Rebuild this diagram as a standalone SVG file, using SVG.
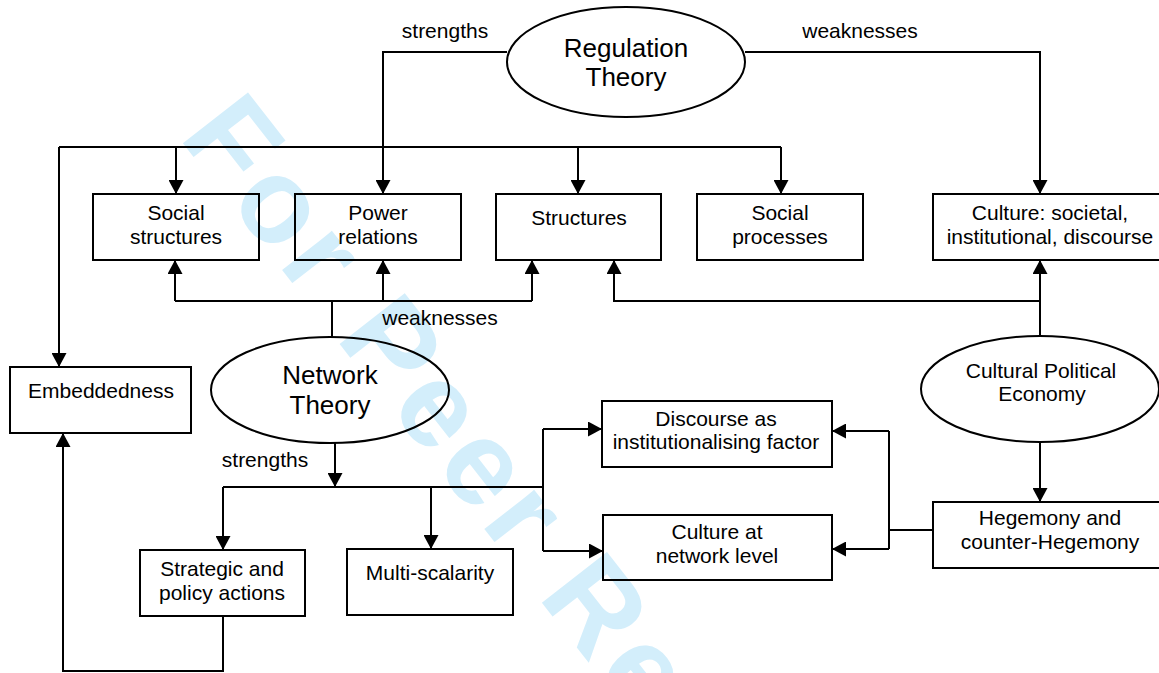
<svg xmlns="http://www.w3.org/2000/svg" width="1159" height="673" viewBox="0 0 1159 673">
<style>
.bg{fill:#ffffff}
.wm{font-family:"Liberation Sans",Arial,sans-serif;font-weight:bold;font-size:120px;letter-spacing:7px;fill:#d3eefb}
.box{fill:none;stroke:#000;stroke-width:2}
.ell{fill:none;stroke:#000;stroke-width:2}
.t{font-family:"Liberation Sans",Arial,sans-serif;font-size:21px;fill:#000;text-anchor:middle}
.tb{font-family:"Liberation Sans",Arial,sans-serif;font-size:26px;fill:#000;text-anchor:middle}
.c{fill:none;stroke:#000;stroke-width:2}
.a{marker-end:url(#arr)}
</style>
<defs>
<marker id="arr" markerUnits="userSpaceOnUse" markerWidth="15" markerHeight="15" refX="14" refY="7.5" orient="auto">
<path d="M0,0 L14,7.5 L0,15 z" fill="#000"/>
</marker>
</defs>
<rect class="bg" x="0" y="0" width="1159" height="673"/>
<text class="wm" transform="translate(178,137) rotate(52)">For Peer Review</text>

<g id="connectors">
<path class="c a" d="M507,52 H383 V194"/>
<path class="c" d="M59,147 H781"/>
<path class="c a" d="M176,147 V194"/>
<path class="c a" d="M578,147 V194"/>
<path class="c a" d="M781,147 V194"/>
<path class="c a" d="M59,147 V367"/>
<path class="c a" d="M745,52 H1040 V194"/>
<path class="c" d="M332,337 V301"/>
<path class="c" d="M175,301 H532"/>
<path class="c a" d="M175,301 V260"/>
<path class="c a" d="M383,301 V260"/>
<path class="c a" d="M532,301 V260"/>
<path class="c a" d="M1040,336 V260"/>
<path class="c a" d="M1040,301 H614 V260"/>
<path class="c a" d="M1040,443 V502"/>
<path class="c" d="M933,530 H889"/>
<path class="c" d="M889,431 V549"/>
<path class="c a" d="M889,431 H832"/>
<path class="c a" d="M889,549 H832"/>
<path class="c a" d="M335,443 V487"/>
<path class="c" d="M223,487 H543"/>
<path class="c a" d="M223,487 V550"/>
<path class="c a" d="M431,487 V549"/>
<path class="c" d="M543,429 V551"/>
<path class="c a" d="M543,429 H602"/>
<path class="c a" d="M543,551 H603"/>
<path class="c a" d="M223,616 V671 H63 V433"/>
<text class="t" x="445" y="38">strengths</text>
<text class="t" x="860" y="38">weaknesses</text>
<text class="t" x="440" y="325">weaknesses</text>
<text class="t" x="265" y="467">strengths</text>
</g>

<g id="regulation-theory">
<ellipse class="ell" cx="626" cy="62" rx="119" ry="55"/>
<text class="tb" x="626" y="57">Regulation</text>
<text class="tb" x="626" y="86">Theory</text>
</g>
<g id="network-theory">
<ellipse class="ell" cx="330" cy="390" rx="119" ry="53"/>
<text class="tb" x="330" y="384">Network</text>
<text class="tb" x="330" y="414">Theory</text>
</g>
<g id="cultural-political-economy">
<ellipse class="ell" cx="1040" cy="389" rx="119" ry="53"/>
<text class="t" x="1041" y="378">Cultural Political</text>
<text class="t" x="1042" y="401">Economy</text>
</g>

<g id="social-structures">
<rect class="box" x="93" y="194" width="166" height="66"/>
<text class="t" x="176" y="220">Social</text>
<text class="t" x="176" y="244">structures</text>
</g>
<g id="power-relations">
<rect class="box" x="295" y="194" width="166" height="66"/>
<text class="t" x="378" y="220">Power</text>
<text class="t" x="378" y="244">relations</text>
</g>
<g id="structures">
<rect class="box" x="496" y="194" width="165" height="66"/>
<text class="t" x="579" y="225">Structures</text>
</g>
<g id="social-processes">
<rect class="box" x="697" y="194" width="166" height="66"/>
<text class="t" x="780" y="220">Social</text>
<text class="t" x="780" y="244">processes</text>
</g>
<g id="culture-societal">
<rect class="box" x="933" y="194" width="234" height="66"/>
<text class="t" x="1050" y="220">Culture: societal,</text>
<text class="t" x="1050" y="244">institutional, discourse</text>
</g>
<g id="embeddedness">
<rect class="box" x="10" y="367" width="181" height="66"/>
<text class="t" x="101" y="398">Embeddedness</text>
</g>
<g id="strategic-policy">
<rect class="box" x="140" y="550" width="165" height="66"/>
<text class="t" x="222" y="576">Strategic and</text>
<text class="t" x="222" y="600">policy actions</text>
</g>
<g id="multi-scalarity">
<rect class="box" x="347" y="549" width="166" height="66"/>
<text class="t" x="430" y="580">Multi-scalarity</text>
</g>
<g id="discourse">
<rect class="box" x="602" y="401" width="230" height="66"/>
<text class="t" x="716" y="426">Discourse as</text>
<text class="t" x="716" y="449">institutionalising factor</text>
</g>
<g id="culture-network">
<rect class="box" x="603" y="515" width="229" height="65"/>
<text class="t" x="717" y="539">Culture at</text>
<text class="t" x="717" y="563">network level</text>
</g>
<g id="hegemony">
<rect class="box" x="933" y="502" width="234" height="66"/>
<text class="t" x="1050" y="525">Hegemony and</text>
<text class="t" x="1050" y="549">counter-Hegemony</text>
</g>
</svg>
